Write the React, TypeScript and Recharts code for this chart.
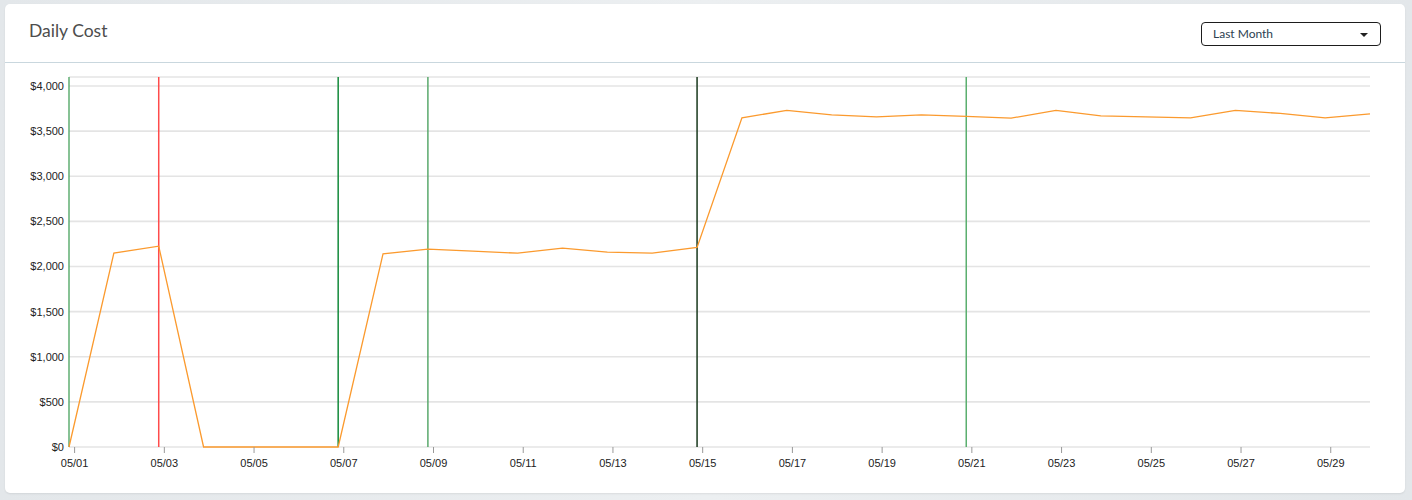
import { LineChart, Line, XAxis, YAxis, CartesianGrid, ReferenceLine } from 'recharts';

const DAYS = [
  '05/01', '05/02', '05/03', '05/04', '05/05', '05/06', '05/07', '05/08', '05/09', '05/10',
  '05/11', '05/12', '05/13', '05/14', '05/15', '05/16', '05/17', '05/18', '05/19', '05/20',
  '05/21', '05/22', '05/23', '05/24', '05/25', '05/26', '05/27', '05/28', '05/29', '05/30',
];

const COST = [
  0, 2148, 2226, 0, 0, 0, 0, 2141, 2192, 2170,
  2148, 2204, 2159, 2148, 2211, 3648, 3730, 3681, 3659, 3681,
  3663, 3644, 3730, 3670, 3659, 3648, 3730, 3696, 3648, 3692,
];

const Y_TICKS = [0, 500, 1000, 1500, 2000, 2500, 3000, 3500, 4000];

// event markers: day label + colour
const EVENTS = [
  { day: '05/01', color: '#5fae72' },
  { day: '05/03', color: '#ff4b4b' },
  { day: '05/07', color: '#13893a' },
  { day: '05/09', color: '#5aa96c' },
  { day: '05/15', color: '#18381c' },
  { day: '05/21', color: '#5aaf6e' },
];

// ticks sit a few hours after the data points (timezone shift in the source)
const TICK_SHIFT = 0.125;

const data = DAYS.map((d, i) => ({ x: i, day: d, cost: COST[i] }));
const xTicks = DAYS.map((_, i) => i).filter((i) => i % 2 === 0).map((i) => i + TICK_SHIFT);

const money = (v: number) => '$' + v.toLocaleString('en-US');

const tickFont = { fontSize: 11, fill: '#222', fontFamily: '"Liberation Sans", Arial, sans-serif' };

export default function App() {
  return (
    <div style={{ position: 'fixed', left: 0, top: 0, width: 1412, height: 500, background: 'linear-gradient(90deg, #e3e7ea, #eceff1 50%, #e3e7ea)' }}>
      <div
        style={{
          position: 'absolute', left: 5, top: 4, width: 1400, height: 489, background: '#fff',
          borderRadius: 5, boxShadow: '0 1px 2px rgba(0,0,0,0.08)',
        }}
      />
      <div style={{ position: 'absolute', left: 5, top: 62, width: 1400, height: 1, background: '#c9d7de' }} />
      <div
        style={{
          position: 'absolute', left: 29, top: 20, fontFamily: 'Lato, "Open Sans", sans-serif', fontSize: 17.5,
          color: '#4d4d4d',
        }}
      >
        Daily Cost
      </div>
      <div
        style={{
          position: 'absolute', left: 1201, top: 22, height: 22, border: '1px solid #1d1d1d',
          borderRadius: 4, fontFamily: 'Lato, "Open Sans", sans-serif', fontSize: 12, color: '#2c3e50',
          lineHeight: '22px', paddingLeft: 11, boxSizing: 'content-box', width: 167,
        }}
      >
        Last Month
        <span
          style={{
            position: 'absolute', right: 12, top: 10, width: 0, height: 0,
            borderLeft: '4px solid transparent', borderRight: '4px solid transparent', borderTop: '4px solid #222',
          }}
        />
      </div>
      <div style={{ position: 'absolute', left: 0, top: 0 }}>
        <LineChart width={1412} height={500} data={data} margin={{ top: 77, right: 42, left: 0, bottom: 0 }}>
          <CartesianGrid horizontal vertical={false} stroke="#e4e4e4" strokeWidth={1.6} />
          <XAxis
            dataKey="x"
            type="number"
            domain={[0, DAYS.length - 1]}
            ticks={xTicks}
            tickFormatter={(v: number) => DAYS[Math.round(v - TICK_SHIFT)]}
            height={53}
            axisLine={false}
            tickSize={6}
            tickMargin={6}
            tickLine={{ stroke: '#999' }}
            tick={tickFont}
            interval={0}
          />
          <YAxis
            type="number"
            domain={[0, 4100]}
            ticks={Y_TICKS}
            tickFormatter={money}
            width={69}
            axisLine={false}
            tickLine={false}
            tickSize={3}
            tickMargin={2}
            tick={tickFont}
            interval={0}
          />
          {EVENTS.map((e) => (
            <ReferenceLine key={e.day} x={DAYS.indexOf(e.day)} stroke={e.color} strokeWidth={1.5} />
          ))}
          <Line
            type="linear"
            dataKey="cost"
            stroke="#fb9a2e"
            strokeWidth={1.3}
            dot={false}
            isAnimationActive={false}
          />
        </LineChart>
      </div>
    </div>
  );
}
